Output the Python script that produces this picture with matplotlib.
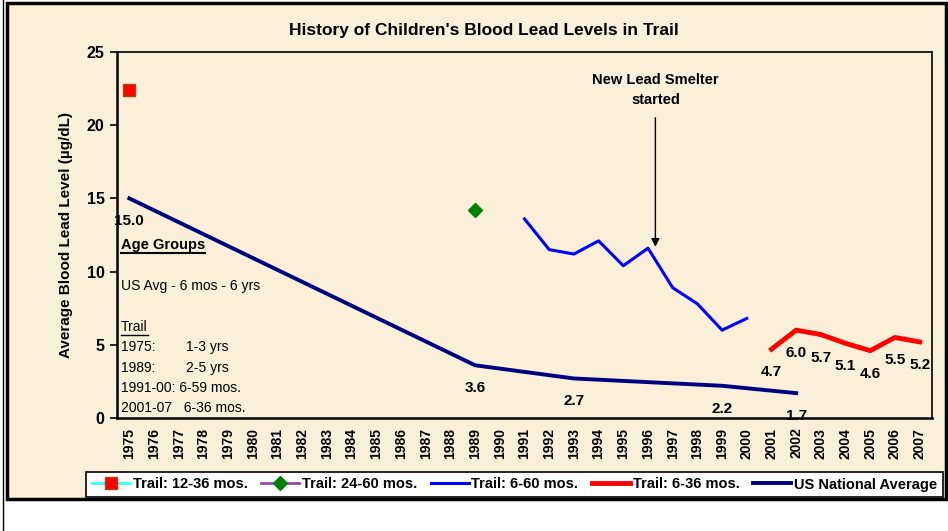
import numpy as np
import matplotlib
matplotlib.use("Agg")
import matplotlib.pyplot as plt
from matplotlib.patches import Rectangle
from matplotlib.lines import Line2D

plt.rcParams["font.family"] = ["Liberation Sans", "DejaVu Sans"]

years = [str(y) for y in range(1975, 2008)]

trail_12_36_years = ["1975"]
trail_12_36 = [22.4]

trail_24_60_years = ["1989"]
trail_24_60 = [14.2]

trail_6_60_years = ["1991", "1992", "1993", "1994", "1995", "1996", "1997", "1998", "1999", "2000"]
trail_6_60 = [13.6, 11.5, 11.2, 12.1, 10.4, 11.6, 8.9, 7.8, 6.0, 6.8]

trail_6_36_years = ["2001", "2002", "2003", "2004", "2005", "2006", "2007"]
trail_6_36 = [4.7, 6.0, 5.7, 5.1, 4.6, 5.5, 5.2]

us_years = ["1975", "1989", "1993", "1999", "2002"]
us_avg = [15.0, 3.6, 2.7, 2.2, 1.7]

BG = "#FAF0DA"


def idx(labels):
    return [years.index(y) for y in labels]


fig = plt.figure(figsize=(9.48, 5.31), dpi=100, facecolor="white")
W, H = 948, 531

# chart frame
fig.patches.append(Rectangle((7 / W, 1 - 499 / H), (946 - 7) / W, (499 - 3) / H,
                             transform=fig.transFigure, facecolor=BG,
                             edgecolor="black", linewidth=2.5, zorder=-10))
fig.lines.append(Line2D([2.5 / W, 2.5 / W], [0, 1], transform=fig.transFigure,
                        color="black", lw=1))

ax = fig.add_axes([117 / W, 1 - 418 / H, (932 - 117) / W, (418 - 52) / H])
ax.set_facecolor(BG)
ax.patch.set_alpha(0)

ax.plot(idx(us_years), us_avg, color="#000080", lw=2.8, label="US National Average", zorder=3)
ax.plot(idx(trail_6_60_years), trail_6_60, color="#0000FF", lw=2.2, label="Trail: 6-60 mos.", zorder=3)
ax.plot(idx(trail_6_36_years), trail_6_36, color="#FF0000", lw=3.5, label="Trail: 6-36 mos.", zorder=3)
ax.plot(idx(trail_12_36_years), trail_12_36, color="#33FFFF", lw=2, marker="s", markersize=8,
        markerfacecolor="#FF0000", markeredgecolor="#B04010", label="Trail: 12-36 mos.", zorder=4)
ax.plot(idx(trail_24_60_years), trail_24_60, color="#A040C0", lw=2, marker="D", markersize=7,
        markerfacecolor="#008000", markeredgecolor="#008000", label="Trail: 24-60 mos.", zorder=4)

for xs, vals in [(idx(us_years), us_avg), (idx(trail_6_36_years), trail_6_36)]:
    for x, v in zip(xs, vals):
        ax.annotate(f"{v:.1f}", (x, v), xytext=(0, -23), textcoords="offset pixels",
                    ha="center", va="center", fontsize=11, fontweight="bold")

ax.set_xlim(-0.5, len(years) - 0.5)
ax.set_ylim(0, 25)
ax.set_xticks(range(len(years)))
ax.set_xticklabels(years, rotation=90, fontsize=10, fontweight="bold")
ax.set_yticks([0, 5, 10, 15, 20, 25])
ax.set_yticklabels(["0", "5", "10", "15", "20", "25"], fontsize=11.5, fontweight="bold")
ax.tick_params(axis="x", length=0, pad=7)
ax.tick_params(axis="y", direction="out", length=5, width=1.2, pad=4)
for s in ["left", "bottom"]:
    ax.spines[s].set_linewidth(1.8)
for s in ["top", "right"]:
    ax.spines[s].set_linewidth(1.2)
ax.set_ylabel("Average Blood Lead Level (µg/dL)", fontsize=11, fontweight="bold", labelpad=10)

# annotation for smelter
ax.text(21.3, 22.4, "New Lead Smelter\nstarted", ha="center", va="center",
        fontsize=10.5, fontweight="bold", linespacing=1.5)
ax.annotate("", xy=(21.3, 11.5), xytext=(21.3, 20.7),
            arrowprops=dict(arrowstyle="-|>", color="black", lw=1, mutation_scale=12))

# age-group notes
notes = [
    (121, 245, "Age Groups", True, True),
    (121, 286, "US Avg - 6 mos - 6 yrs", False, False),
    (121, 327, "Trail", False, True),
    (121, 347, "1975:", False, False),
    (186, 347, "1-3 yrs", False, False),
    (121, 368, "1989:", False, False),
    (186, 368, "2-5 yrs", False, False),
    (121, 388, "1991-00: 6-59 mos.", False, False),
    (121, 408, "2001-07   6-36 mos.", False, False),
]
note_texts = []
for px, py, s, bold, underline in notes:
    t = fig.text(px / W, 1 - py / H, s, ha="left", va="center", fontsize=10.5 if bold else 10,
                 fontweight="bold" if bold else "normal")
    if underline:
        note_texts.append(t)

fig.text(484 / W, 1 - 30 / H, "History of Children's Blood Lead Levels in Trail",
         ha="center", va="center", fontsize=12.5, fontweight="bold")

handles, labels = ax.get_legend_handles_labels()
order = ["Trail: 12-36 mos.", "Trail: 24-60 mos.", "Trail: 6-60 mos.", "Trail: 6-36 mos.", "US National Average"]
hmap = dict(zip(labels, handles))
leg = fig.legend([hmap[k] for k in order], order, ncol=5, loc="center",
                 bbox_to_anchor=(86 / W, 1 - 498 / H, (943 - 86) / W, 27 / H),
                 mode="expand", prop={"weight": "bold", "size": 10.5},
                 frameon=True, fancybox=False, edgecolor="black", facecolor="white",
                 handlelength=2.6, handletextpad=0.2, columnspacing=0.6, borderaxespad=0)
leg.get_frame().set_linewidth(1.2)
leg.get_frame().set_alpha(1)

fig.canvas.draw()
r = fig.canvas.get_renderer()
for t in note_texts:
    bb = t.get_window_extent(r)
    y = bb.y0 - 1
    fig.lines.append(Line2D([bb.x0 / W, bb.x1 / W], [y / H, y / H],
                            transform=fig.transFigure, color="black", lw=1.5 if t.get_text() == "Age Groups" else 1))

fig.savefig("out.png", dpi=100, facecolor="white")
